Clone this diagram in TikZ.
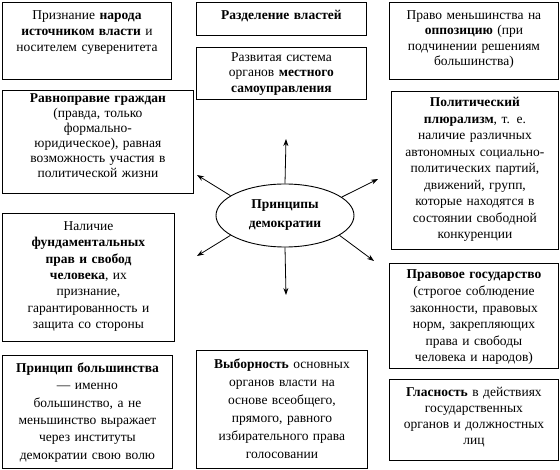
\documentclass[tikz,border=0pt]{standalone}
\usepackage{fontspec}
\setmainfont{Liberation Serif}
\newfontfamily\tnr{Liberation Serif}
\usetikzlibrary{shapes.geometric,arrows.meta}
\tikzset{
  box/.style={draw, line width=0.9pt, inner sep=0pt, rectangle, anchor=north west},
  txt/.style={anchor=north, inner sep=0pt, align=center},
  fs/.style={font=\tnr\fontsize{13.5}{#1}\selectfont},
  el/.style={draw, ellipse, line width=0.9pt, inner sep=0pt, minimum width=138pt, minimum height=63pt, align=center, font=\tnr\fontsize{13.5}{19}\selectfont\bfseries},
  arr/.style={-{Stealth[length=7pt,width=5pt]}, line width=0.8pt},
}
\begin{document}
\begin{tikzpicture}[x=1pt,y=-1pt]
\useasboundingbox (0,0) rectangle (560,470);
% boxes
\node[box, minimum width=169pt, minimum height=77pt] (b1) at (2,2) {};
\node[box, minimum width=170pt, minimum height=33pt] (b2) at (196,2) {};
\node[box, minimum width=170pt, minimum height=52pt] (b3) at (196,47) {};
\node[box, minimum width=169pt, minimum height=77pt] (b4) at (389,2) {};
\node[box, minimum width=191pt, minimum height=103pt] (b5) at (2,90) {};
\node[box, minimum width=167pt, minimum height=158pt] (b6) at (391,91) {};
\node[box, minimum width=172pt, minimum height=128pt] (b7) at (2,213) {};
\node[box, minimum width=169pt, minimum height=105pt] (b8) at (389,263) {};
\node[box, minimum width=170pt, minimum height=113pt] (b9) at (2,355) {};
\node[box, minimum width=171pt, minimum height=118pt] (b10) at (196,350) {};
\node[box, minimum width=169pt, minimum height=81pt] (b11) at (389,379) {};
% texts
\node[txt, fs=16, text width=165pt] (t1) at ([yshift=-6pt]b1.north)
  {\strut Признание \textbf{народа}\\\textbf{источником власти} и\\носителем суверенитета};
\node[txt, fs=16, text width=165pt] (t2) at ([yshift=-6pt]b2.north)
  {\strut\textbf{Разделение властей}};
\node[txt, fs=15.5, text width=165pt] (t3) at ([yshift=-3pt]b3.north)
  {\strut Развитая система\\органов \textbf{местного}\\\textbf{самоуправления}};
\node[txt, fs=15.5, text width=165pt] (t4) at ([yshift=-6pt]b4.north)
  {\strut Право меньшинства на\\\textbf{оппозицию} (при\\подчинении решениям\\большинства)};
\node[txt, fs=15, text width=187pt] (t5) at ([yshift=-2pt]b5.north)
  {\strut\textbf{Равноправие граждан}\\(правда, только\\формально-\\юридическое), равная\\возможность участия в\\политической жизни};
\node[txt, fs=16.5, text width=163pt] (t6) at ([yshift=-4pt]b6.north)
  {\strut\textbf{Политический}\\\textbf{плюрализм}, т. е.\\наличие различных\\автономных социально-\\политических партий,\\движений, групп,\\которые находятся в\\состоянии свободной\\конкуренции};
\node[txt, fs=16.3, text width=168pt] (t7) at ([yshift=-6pt]b7.north)
  {\strut Наличие\\\textbf{фундаментальных}\\\textbf{прав и свобод}\\\textbf{человека}, их\\признание,\\гарантированность и\\защита со стороны};
\node[txt, fs=16.6, text width=165pt] (t8) at ([yshift=-4pt]b8.north)
  {\strut\textbf{Правовое государство}\\(строгое соблюдение\\законности, правовых\\норм, закрепляющих\\права и свободы\\человека и народов)};
\node[txt, fs=17.4, text width=166pt] (t9) at ([yshift=-5pt]b9.north)
  {\strut\textbf{Принцип большинства}\\— именно\\большинство, а не\\меньшинство выражает\\через институты\\демократии свою волю};
\node[txt, fs=18, text width=167pt] (t10) at ([yshift=-6pt]b10.north)
  {\strut\textbf{Выборность} основных\\органов власти на\\основе всеобщего,\\прямого, равного\\избирательного права\\голосовании};
\node[txt, fs=16, text width=165pt] (t11) at ([yshift=-6pt]b11.north)
  {\strut\textbf{Гласность} в действиях\\государственных\\органов и должностных\\лиц};
% centre
\node[el] (c) at (285,215.5) {Принципы\\демократии};
\coordinate (eu) at (286,139);
\coordinate (ed) at (286,295);
\coordinate (eul) at (197,175);
\coordinate (edl) at (197,256);
\coordinate (eur) at (378,179);
\coordinate (edr) at (374,261);
\draw[arr] (c.north) -- (eu);
\draw[arr] (c.south) -- (ed);
\draw[arr] (c.160) -- (eul);
\draw[arr] (c.200) -- (edl);
\draw[arr] (c.18) -- (eur);
\draw[arr] (c.-20) -- (edr);
\end{tikzpicture}
\end{document}
